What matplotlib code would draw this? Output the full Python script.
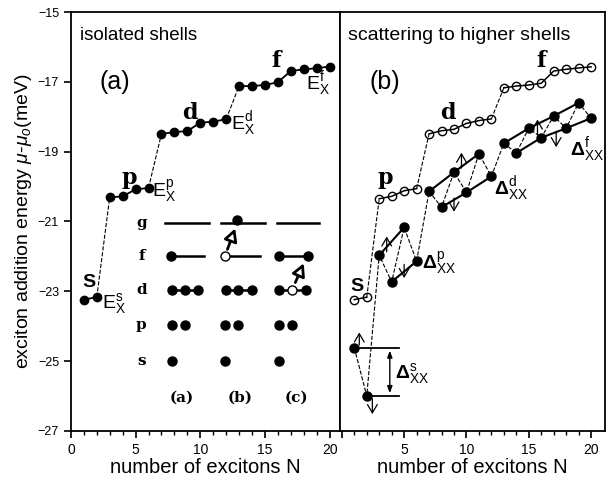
import matplotlib
matplotlib.use("Agg")
import matplotlib.pyplot as plt

plt.rcParams['font.family'] = ['Liberation Sans', 'DejaVu Sans']
plt.rcParams['mathtext.fontset'] = 'custom'
plt.rcParams['mathtext.rm'] = 'Liberation Sans'
plt.rcParams['mathtext.it'] = 'Liberation Sans:italic'
plt.rcParams['mathtext.bf'] = 'Liberation Sans:bold'

# numero de excitones
N = list(range(1, 21))

# panel (a): capas aisladas
E_isol = [-23.24, -23.17, -20.31, -20.28, -20.08, -20.04, -18.49, -18.44, -18.41, -18.17,
          -18.14, -18.07, -17.12, -17.12, -17.09, -17.01, -16.69, -16.64, -16.61, -16.56]

# panel (b): circulos abiertos y llenos
E_open = [-23.24, -23.17, -20.35, -20.28, -20.12, -20.06, -18.49, -18.40, -18.36, -18.19,
          -18.11, -18.06, -17.17, -17.12, -17.09, -17.04, -16.69, -16.64, -16.60, -16.57]
E_scat = [-24.62, -26.00, -21.97, -22.73, -21.17, -22.14, -20.14, -20.59, -19.59, -20.17,
          -19.06, -19.71, -18.76, -19.04, -18.33, -18.60, -17.98, -18.33, -17.60, -18.04]

# capas: (inicio, fin) en indices de N
shells = [(0, 2), (2, 6), (6, 12), (12, 20)]

# esquema de ocupacion (inset)
rows = ['g', 'f', 'd', 'p', 's']
row_y = [-21.03, -21.98, -22.95, -23.96, -24.99]

fig = plt.figure(figsize=(6.06, 4.83), dpi=100)
ax1 = fig.add_axes([0.117, 0.108, 0.444, 0.867])
ax2 = fig.add_axes([0.561, 0.108, 0.437, 0.867])

for ax in (ax1, ax2):
    ax.set_ylim(-27, -15)
    ax.set_xticks([0, 5, 10, 15, 20])
    ax.set_xticks(range(0, 21), minor=True)
    ax.tick_params(axis='x', direction='out', length=5, width=1.2, labelsize=10)
    ax.tick_params(axis='x', which='minor', direction='out', length=3, width=1)
    for s in ax.spines.values():
        s.set_linewidth(1.3)
    ax.set_xlabel('number of excitons N', fontsize=14.5, labelpad=1)

ax1.set_xlim(0, 20.8)
ax2.set_xlim(-0.15, 21.1)
ax1.set_yticks([-15, -17, -19, -21, -23, -25, -27])
ax1.tick_params(axis='y', direction='out', length=5, width=1.2, labelsize=9)
ax2.set_yticks([])
ax2.set_xticklabels(['', '5', '10', '15', '20'])
ax1.set_ylabel(r'exciton addition energy $\mathit{\mu}$-$\mathit{\mu}_o$(meV)', fontsize=14, labelpad=3)

arrow_open = dict(arrowstyle='-|>,head_width=0.4,head_length=0.75', color='black',
                  lw=2.0, fc='white', shrinkA=0, shrinkB=0)
arrow_small = dict(arrowstyle='->,head_width=0.35,head_length=0.6', color='black', lw=0.9)

# ---------- panel (a) ----------
for a, b in shells:
    ax1.plot(N[a:b], E_isol[a:b], '-', color='black', lw=1.3, marker='o', ms=6)
for a, b in shells[:-1]:
    ax1.plot([N[b - 1], N[b]], [E_isol[b - 1], E_isol[b]], '--', color='black', lw=0.8)

ax1.text(0.035, 0.965, 'isolated shells', transform=ax1.transAxes, fontsize=13.5, va='top')
ax1.text(2.2, -17.0, '(a)', fontsize=18, va='center')
ax1.text(0.85, -22.75, 'S', fontsize=14, fontweight='bold', va='center')
ax1.text(3.95, -19.75, 'p', fontsize=16, fontweight='bold', family='DejaVu Serif', va='center')
ax1.text(8.6, -17.9, 'd', fontsize=16, fontweight='bold', family='DejaVu Serif', va='center')
ax1.text(15.5, -16.4, 'f', fontsize=16, fontweight='bold', family='DejaVu Serif', va='center')
ax1.text(2.4, -23.35, r'$\mathrm{E}_\mathrm{X}^\mathrm{s}$', fontsize=14, va='center')
ax1.text(6.3, -20.15, r'$\mathrm{E}_\mathrm{X}^\mathrm{p}$', fontsize=14, va='center')
ax1.text(12.4, -18.2, r'$\mathrm{E}_\mathrm{X}^\mathrm{d}$', fontsize=14, va='center')
ax1.text(18.2, -17.05, r'$\mathrm{E}_\mathrm{X}^\mathrm{f}$', fontsize=14, va='center')

# inset: diagrama de capas
for name, y in zip(rows, row_y):
    ax1.text(5.45, y, name, fontsize=11, fontweight='bold', family='DejaVu Serif',
             ha='center', va='center')
# (a)
ax1.plot([7.3, 10.7], [row_y[0]] * 2, '-', color='black', lw=1.8)
ax1.plot([7.75, 10.3], [row_y[1]] * 2, '-', color='black', lw=1.8)
ax1.plot([7.75], [row_y[1]], 'o', color='black', ms=6.5)
ax1.plot([7.8, 8.8, 9.8], [row_y[2]] * 3, '-o', color='black', lw=1.8, ms=6.5)
ax1.plot([7.8, 8.8], [row_y[3]] * 2, 'o', color='black', ms=6.5)
ax1.plot([7.8], [row_y[4]], 'o', color='black', ms=6.5)
# (b)
ax1.plot([11.6, 15.0], [row_y[0]] * 2, '-', color='black', lw=1.8)
ax1.plot([12.85], [-20.95], 'o', color='black', ms=6.5)
ax1.plot([11.9, 14.6], [row_y[1]] * 2, '-', color='black', lw=1.8)
ax1.plot([11.9], [row_y[1]], 'o', mfc='white', mec='black', ms=6.5)
ax1.plot([12.0, 12.95, 14.0], [row_y[2]] * 3, '-o', color='black', lw=1.8, ms=6.5)
ax1.plot([11.95, 12.9], [row_y[3]] * 2, 'o', color='black', ms=6.5)
ax1.plot([11.95], [row_y[4]], 'o', color='black', ms=6.5)
ax1.annotate('', xy=(12.7, -21.2), xytext=(12.1, -21.8), arrowprops=arrow_open)
# (c)
ax1.plot([15.9, 19.15], [row_y[0]] * 2, '-', color='black', lw=1.8)
ax1.plot([16.05, 18.3], [row_y[1]] * 2, '-o', color='black', lw=1.8, ms=6.5)
ax1.plot([16.05, 17.1, 18.2], [row_y[2]] * 3, '-', color='black', lw=1.8)
ax1.plot([16.05, 18.2], [row_y[2]] * 2, 'o', color='black', ms=6.5)
ax1.plot([17.1], [row_y[2]], 'o', mfc='white', mec='black', ms=6.5)
ax1.plot([16.1, 17.1], [row_y[3]] * 2, 'o', color='black', ms=6.5)
ax1.plot([16.1], [row_y[4]], 'o', color='black', ms=6.5)
ax1.annotate('', xy=(18.0, -22.2), xytext=(17.35, -22.75), arrowprops=arrow_open)
for lab, x in zip(['(a)', '(b)', '(c)'], [7.6, 12.1, 16.5]):
    ax1.text(x, -26.04, lab, fontsize=11, fontweight='bold', family='DejaVu Serif',
             va='center')

# ---------- panel (b) ----------
for a, b in shells:
    ax2.plot(N[a:b], E_open[a:b], '-', color='black', lw=1.1, marker='o', ms=6,
             mfc='none', mec='black', mew=1.0)
for a, b in shells[:-1]:
    ax2.plot([N[b - 1], N[b]], [E_open[b - 1], E_open[b]], '--', color='black', lw=0.8)

# zigzag discontinuo entre estados llenos
ax2.plot(N, E_scat, '--', color='black', lw=0.8)
# lineas solidas por paridad dentro de cada capa
for a, b in shells[1:]:
    ax2.plot(N[a:b:2], E_scat[a:b:2], '-', color='black', lw=1.5)
    ax2.plot(N[a + 1:b:2], E_scat[a + 1:b:2], '-', color='black', lw=1.5)
ax2.plot(N, E_scat, 'o', color='black', ms=6.5)

# referencia Delta s
ax2.plot([N[0], 4.6], [E_scat[0]] * 2, '-', color='black', lw=1.3)
ax2.plot([N[1], 4.6], [E_scat[1]] * 2, '-', color='black', lw=1.3)
ax2.annotate('', xy=(3.85, E_scat[1]), xytext=(3.85, E_scat[0]),
             arrowprops=dict(arrowstyle='<|-|>,head_width=0.15,head_length=0.4',
                             color='black', lw=1.0))

# flechas pequenas (arriba / abajo)
up_arrows = [(1.4, -24.62, -24.1), (3.6, -21.95, -21.35), (9.6, -19.55, -18.95), (15.7, -18.6, -18.0)]
down_arrows = [(2.45, -26.0, -26.6), (5.0, -22.15, -22.7), (9.0, -20.25, -20.8), (17.2, -18.35, -18.95)]
for x, y0, y1 in up_arrows + down_arrows:
    ax2.annotate('', xy=(x, y1), xytext=(x, y0), arrowprops=arrow_small)

ax2.text(0.03, 0.965, 'scattering to higher shells', transform=ax2.transAxes, fontsize=14, va='top')
ax2.text(2.2, -17.0, '(b)', fontsize=18, va='center')
ax2.text(0.7, -22.85, 'S', fontsize=14, fontweight='bold', va='center')
ax2.text(2.85, -19.75, 'p', fontsize=16, fontweight='bold', family='DejaVu Serif', va='center')
ax2.text(7.9, -17.9, 'd', fontsize=16, fontweight='bold', family='DejaVu Serif', va='center')
ax2.text(15.6, -16.4, 'f', fontsize=16, fontweight='bold', family='DejaVu Serif', va='center')
ax2.text(4.3, -25.35, r'$\mathbf{\Delta}_\mathrm{XX}^\mathrm{s}$', fontsize=14, va='center')
ax2.text(6.4, -22.2, r'$\mathbf{\Delta}_\mathrm{XX}^\mathrm{p}$', fontsize=14, va='center')
ax2.text(12.2, -20.05, r'$\mathbf{\Delta}_\mathrm{XX}^\mathrm{d}$', fontsize=14, va='center')
ax2.text(18.3, -18.95, r'$\mathbf{\Delta}_\mathrm{XX}^\mathrm{f}$', fontsize=14, va='center')

fig.savefig('out.png', dpi=100)
